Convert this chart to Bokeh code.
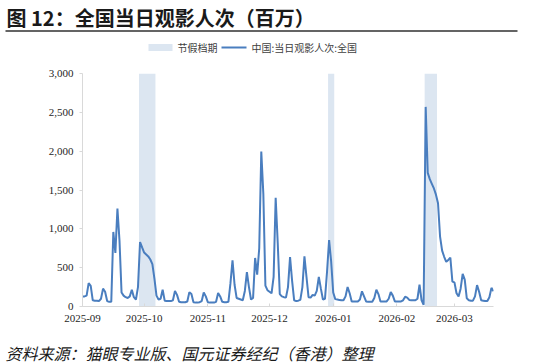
import pandas as pd
from bokeh.plotting import figure
from bokeh.layouts import column, row
from bokeh.models import (Range1d, FixedTicker, DatetimeTickFormatter, NumeralTickFormatter,
                          ColumnDataSource, BoxAnnotation, Spacer)
from bokeh.core.properties import value
from bokeh.embed import file_html
from bokeh.resources import INLINE

title_text = "图 12：全国当日观影人次（百万）"
source_text = "资料来源：猫眼专业版、国元证券经纪（香港）整理"
series_name = "中国:当日观影人次:全国"
band_name = "节假档期"

start_date = "2025-09-03"
sep_vals = [130, 130, 140, 300, 265, 80, 75, 75, 70, 100, 230, 190, 70, 60, 60, 960, 690, 1260,
            850, 180, 140, 120, 110, 130, 215, 120, 90, 250]
oct_vals = [830, 760, 695, 670, 645, 605, 545, 360, 140, 90, 100, 215, 75, 70, 70, 70, 80, 200,
            150, 60, 55, 55, 55, 65, 185, 160, 55, 50, 50, 55, 70]
nov_vals = [180, 130, 55, 50, 50, 50, 60, 175, 130, 60, 55, 55, 60, 300, 595, 280, 110, 100,
            90, 80, 200, 443, 250, 90, 110, 625, 410, 750, 1995, 1450]
dec_vals = [270, 210, 190, 170, 380, 1400, 820, 160, 130, 120, 115, 250, 635, 330, 80, 70, 75,
            85, 250, 645, 380, 120, 115, 150, 140, 200, 380, 230, 90, 100, 450]
jan_vals = [855, 580, 180, 95, 90, 85, 80, 80, 130, 250, 170, 65, 65, 65, 65, 90, 195, 130, 65,
            60, 60, 60, 110, 215, 160, 65, 65, 65, 65, 100, 185]
feb_vals = [140, 65, 65, 65, 65, 80, 125, 115, 85, 80, 80, 80, 100, 280, 80, 22, 2570, 1720,
            1640, 1580, 1520, 1440, 1330, 900, 720, 640, 575, 600]
mar_vals = [630, 320, 310, 170, 130, 230, 420, 345, 105, 80, 75, 75, 130, 275, 190, 80, 75, 70,
            70, 120, 240, 195]

holiday_start = ["2025-10-01", "2026-01-01", "2026-02-17"]
holiday_end = ["2025-10-08", "2026-01-03", "2026-02-22"]

tick_dates = ["2025-09-03", "2025-10-03", "2025-11-03", "2025-12-03",
              "2026-01-03", "2026-02-03", "2026-03-03"]
tick_labels = ["2025-09", "2025-10", "2025-11", "2025-12", "2026-01", "2026-02", "2026-03"]
y_ticks = [0, 500, 1000, 1500, 2000, 2500, 3000]
y_max = 3000

values = sep_vals + oct_vals + nov_vals + dec_vals + jan_vals + feb_vals + mar_vals
dates = pd.date_range(start_date, periods=len(values), freq="D")
src = ColumnDataSource(dict(x=dates, y=values))

half_day = pd.Timedelta(hours=12)
band_src = ColumnDataSource(dict(
    left=pd.to_datetime(holiday_start) - half_day,
    right=pd.to_datetime(holiday_end) + half_day,
    bottom=[0] * len(holiday_start),
    top=[y_max] * len(holiday_start),
))

W = 533
HEAD_H, MAIN_H = 60, 270
GAP_H, RULE_H, FOOT_H = 4, 2, 28
FL, FR = 82, 493          # frame left / right on canvas
FT, FB = 73, 306          # frame top / bottom on canvas

band_color = "#dce6f1"
line_color = "#4a7ebf"
serif = "Liberation Serif"
cjk = "Noto Sans CJK SC"
axis_gray = "#d9d9d9"
rule_color = "#303030"


def deco_figure(w, h, bg="white"):
    f = figure(width=w, height=h, output_backend="svg", toolbar_location=None,
               x_range=Range1d(0, w), y_range=Range1d(0, h),
               x_axis_location=None, y_axis_location=None, min_border=0,
               frame_align=False)
    f.outline_line_color = None
    f.xgrid.visible = False
    f.ygrid.visible = False
    f.background_fill_color = bg
    f.border_fill_color = bg
    return f


# ---- header: title, rule, legend (y measured upward from the header's bottom) ----
head = deco_figure(W, HEAD_H)
head.text(x=[6], y=[HEAD_H - 16.5], text=[title_text], text_font=value(cjk),
          text_font_size="20px", text_font_style="bold", text_color="#1a1a1a",
          text_baseline="middle")
head.add_layout(BoxAnnotation(left=5, right=517, top=HEAD_H - 29.75, bottom=HEAD_H - 31.25,
                              fill_color=rule_color, fill_alpha=1, line_color=None))
head.quad(left=[148], right=[172], top=[HEAD_H - 43.5], bottom=[HEAD_H - 50.5],
          fill_color=band_color, line_color=None)
head.text(x=[177], y=[HEAD_H - 47], text=[band_name], text_font=value(cjk),
          text_font_size="10px", text_color="#404040", text_baseline="middle")
head.segment(x0=[221], y0=[HEAD_H - 47], x1=[246], y1=[HEAD_H - 47], line_color=line_color,
             line_width=2)
head.text(x=[251], y=[HEAD_H - 47], text=[series_name], text_font=value(cjk),
          text_font_size="10px", text_color="#404040", text_baseline="middle")

# ---- main chart ----
p = figure(width=W, height=MAIN_H, x_axis_type="datetime", output_backend="svg",
           toolbar_location=None, frame_align=False,
           x_range=Range1d(dates[0], dates[-1]), y_range=Range1d(0, y_max),
           min_border_left=FL, min_border_right=W - FR,
           min_border_top=FT - HEAD_H, min_border_bottom=HEAD_H + MAIN_H - FB)
p.outline_line_color = None
p.xgrid.visible = False
p.ygrid.visible = False
p.background_fill_color = "white"
p.border_fill_color = "white"

p.quad(left="left", right="right", bottom="bottom", top="top", source=band_src,
       fill_color=band_color, line_color=None)
p.line("x", "y", source=src, line_color=line_color, line_width=2)

tick_ms = [int(pd.Timestamp(d).value // 10**6) for d in tick_dates]
xa = p.xaxis[0]
xa.ticker = FixedTicker(ticks=tick_ms)
xa.formatter = DatetimeTickFormatter(days="%Y-%m", months="%Y-%m", years="%Y-%m")
xa.major_label_overrides = {t: l for t, l in zip(tick_ms, tick_labels)}
xa.axis_line_color = axis_gray
xa.major_tick_line_color = axis_gray
xa.major_tick_in = 3
xa.major_tick_out = 0
xa.minor_tick_line_color = None
xa.major_label_standoff = 8
xa.major_label_text_font = serif
xa.major_label_text_font_size = "11px"
xa.major_label_text_color = "#262626"

ya = p.yaxis[0]
ya.ticker = FixedTicker(ticks=y_ticks)
ya.formatter = NumeralTickFormatter(format="0,0")
ya.axis_line_color = axis_gray
ya.major_tick_line_color = axis_gray
ya.major_tick_in = 0
ya.major_tick_out = 3
ya.minor_tick_line_color = None
ya.major_label_standoff = 6
ya.major_label_text_font = serif
ya.major_label_text_font_size = "11px"
ya.major_label_text_color = "#262626"

# ---- footer: rule strip and source ----
gap = deco_figure(W, GAP_H)
rule_strip = row(Spacer(width=5, height=RULE_H), deco_figure(512, RULE_H, bg=rule_color),
                 Spacer(width=W - 517, height=RULE_H), spacing=0)
foot = deco_figure(W, FOOT_H)
foot.text(x=[5], y=[FOOT_H - 16], text=[source_text], text_font=value(cjk),
          text_font_size="16px", text_font_style="italic", text_color="#1a1a1a",
          text_baseline="middle")

layout = column(head, p, gap, rule_strip, foot, spacing=0)
open("out.html", "w").write(file_html(layout, INLINE))
